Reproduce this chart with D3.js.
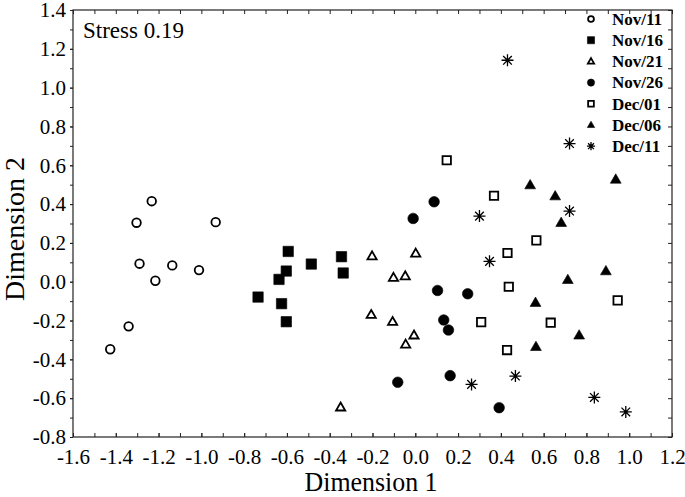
<!DOCTYPE html>
<html>
<head>
<meta charset="utf-8">
<script src="https://cdn.jsdelivr.net/npm/d3@7"></script>
<style>
  body { margin: 0; background: #fff; }
  text { font-family: "Liberation Serif", "Times New Roman", serif; fill: #000; }
</style>
</head>
<body>
<script>

// Series names (legend order)
var seriesNames = ["Nov/11", "Nov/16", "Nov/21", "Nov/26", "Dec/01", "Dec/06", "Dec/11"];

// MDS coordinates [Dimension 1, Dimension 2]
var nov11 = [[-1.232, 0.415], [-1.303, 0.304], [-0.933, 0.307], [-1.289, 0.093], [-1.136, 0.084],
             [-1.011, 0.060], [-1.215, 0.005], [-1.340, -0.230], [-1.426, -0.348]];
var nov16 = [[-0.594, 0.156], [-0.486, 0.091], [-0.345, 0.129], [-0.337, 0.045], [-0.603, 0.055],
             [-0.637, 0.012], [-0.735, -0.079], [-0.625, -0.113], [-0.603, -0.206]];
var nov21 = [[-0.202, 0.132], [0.002, 0.146], [-0.102, 0.021], [-0.047, 0.029], [-0.206, -0.170],
             [-0.106, -0.206], [-0.006, -0.276], [-0.045, -0.323], [-0.349, -0.647]];
var nov26 = [[-0.010, 0.326], [0.088, 0.412], [0.104, -0.045], [0.245, -0.062], [0.133, -0.197],
             [0.155, -0.249], [0.163, -0.484], [-0.082, -0.518], [0.392, -0.649]];
var dec01 = [[0.147, 0.626], [0.368, 0.443], [0.566, 0.213], [0.431, 0.148], [0.437, -0.026],
             [0.308, -0.208], [0.633, -0.211], [0.429, -0.352], [0.946, -0.096]];
var dec06 = [[0.537, 0.498], [0.654, 0.441], [0.682, 0.304], [0.937, 0.527], [0.713, 0.010],
             [0.891, 0.055], [0.562, -0.108], [0.766, -0.276], [0.564, -0.335]];
var dec11 = [[0.431, 1.141], [0.721, 0.712], [0.721, 0.364], [0.300, 0.338], [0.347, 0.105],
             [0.468, -0.486], [0.263, -0.529], [0.837, -0.596], [0.984, -0.671]];

var seriesData = [nov11, nov16, nov21, nov26, dec01, dec06, dec11];

// Tick values
var xMajorTicks = d3.range(-16, 13, 2).map(function(d) { return d / 10; });
var xMinorTicks = d3.range(-16, 13, 1).map(function(d) { return d / 10; });
var yMajorTicks = d3.range(-8, 15, 2).map(function(d) { return d / 10; });
var yMinorTicks = d3.range(-8, 15, 1).map(function(d) { return d / 10; });

var svgWidth = 685;
var svgHeight = 497;

var margin = { top: 10, right: 13, bottom: 60, left: 73 };
var plotRight = svgWidth - margin.right;
var plotBottom = svgHeight - margin.bottom;

var svg = d3.select("body")
  .append("svg")
    .attr("width", svgWidth)
    .attr("height", svgHeight);

var xScale = d3.scaleLinear().domain([-1.6, 1.2]).range([margin.left, plotRight]);
var yScale = d3.scaleLinear().domain([-0.8, 1.4]).range([plotBottom, margin.top]);

var fmt = function(d) { return d.toFixed(1); };

// Marker shapes, one per series
function markerPath(i, s) {
  var p = d3.path();
  if (i === 0 || i === 3) {
    var r = (i === 0 ? 4.3 : 5.3) * s;
    p.arc(0, 0, r, 0, 2 * Math.PI);
  } else if (i === 1 || i === 4) {
    var h = (i === 1 ? 5.2 : 4.2) * s;
    p.rect(-h, -h, 2 * h, 2 * h);
  } else if (i === 2 || i === 5) {
    var w = (i === 2 ? 4.6 : 5.4) * s;
    var t = w * Math.sqrt(3);
    p.moveTo(0, -t * 0.6);
    p.lineTo(w, t * 0.4);
    p.lineTo(-w, t * 0.4);
    p.closePath();
  } else {
    var a = 6 * s;
    var b = a * 0.72;
    p.moveTo(0, -a); p.lineTo(0, a);
    p.moveTo(-a, 0); p.lineTo(a, 0);
    p.moveTo(-b, -b); p.lineTo(b, b);
    p.moveTo(-b, b); p.lineTo(b, -b);
  }
  return p.toString();
}

function styleMarker(sel, i) {
  var filled = (i === 1 || i === 3 || i === 5);
  sel.attr("fill", filled ? "#000" : (i === 6 ? "none" : "#fff"))
    .attr("stroke", "#000")
    .attr("stroke-width", i === 6 ? 1.3 : (filled ? 0.6 : 1.8))
    .attr("stroke-linejoin", "miter");
}

// Axes with ticks
svg.append("g")
  .attr("transform", "translate(0," + plotBottom + ")")
  .call(d3.axisBottom(xScale).tickValues(xMinorTicks).tickSizeInner(-4).tickSizeOuter(0).tickFormat(""));

svg.append("g")
  .attr("class", "x-axis")
  .attr("transform", "translate(0," + plotBottom + ")")
  .call(d3.axisBottom(xScale).tickValues(xMajorTicks).tickSizeInner(-4).tickSizeOuter(0).tickPadding(12).tickFormat(fmt));

svg.append("g")
  .attr("transform", "translate(0," + margin.top + ")")
  .call(d3.axisTop(xScale).tickValues(xMinorTicks).tickSizeInner(-4).tickSizeOuter(0).tickFormat(""));

svg.append("g")
  .attr("transform", "translate(" + margin.left + ",0)")
  .call(d3.axisLeft(yScale).tickValues(yMinorTicks).tickSizeInner(3).tickSizeOuter(0).tickFormat(""));

svg.append("g")
  .attr("class", "y-axis")
  .attr("transform", "translate(" + margin.left + ",0)")
  .call(d3.axisLeft(yScale).tickValues(yMajorTicks).tickSizeInner(3).tickSizeOuter(0).tickPadding(4).tickFormat(fmt));

svg.append("g")
  .attr("transform", "translate(" + plotRight + ",0)")
  .call(d3.axisRight(yScale).tickValues(yMinorTicks).tickSizeInner(-4).tickSizeOuter(0).tickFormat(""));

svg.selectAll(".domain").remove();
svg.selectAll(".tick line").attr("stroke", "#222").attr("stroke-width", 1);
svg.selectAll(".x-axis text, .y-axis text")
  .style("font-family", "'Liberation Serif', 'Times New Roman', serif")
  .style("font-size", "21px")
  .attr("fill", "#000");
svg.selectAll(".y-axis text").attr("dy", "0.32em");

// Plot frame
svg.append("rect")
  .attr("x", margin.left)
  .attr("y", margin.top)
  .attr("width", plotRight - margin.left)
  .attr("height", plotBottom - margin.top)
  .attr("fill", "none")
  .attr("stroke", "#222")
  .attr("stroke-width", 1.2);

// Points
seriesData.forEach(function(points, i) {
  svg.append("g")
    .selectAll("path")
    .data(points)
    .enter()
    .append("path")
      .attr("transform", function(d) { return "translate(" + xScale(d[0]) + "," + yScale(d[1]) + ")"; })
      .attr("d", markerPath(i, 1))
      .call(styleMarker, i);
});

// Legend
var legend = svg.append("g").attr("transform", "translate(591,19)");
seriesNames.forEach(function(name, i) {
  var row = legend.append("g").attr("transform", "translate(0," + (i * 21.2) + ")");
  row.append("path")
    .attr("d", markerPath(i, 0.68))
    .call(styleMarker, i);
  row.append("text")
    .attr("x", 21)
    .attr("dy", "0.34em")
    .style("font-size", "17px")
    .style("font-weight", "bold")
    .text(name);
});

// Stress annotation
svg.append("text")
  .attr("x", 83)
  .attr("y", 38)
  .style("font-size", "23px")
  .text("Stress 0.19");

// Axis titles
svg.append("text")
  .attr("x", 371)
  .attr("y", 491)
  .attr("text-anchor", "middle")
  .attr("textLength", 133)
  .attr("lengthAdjust", "spacingAndGlyphs")
  .style("font-size", "27px")
  .text("Dimension 1");

svg.append("text")
  .attr("transform", "translate(24,229) rotate(-90)")
  .attr("text-anchor", "middle")
  .style("font-size", "28px")
  .text("Dimension 2");

</script>
</body>
</html>
